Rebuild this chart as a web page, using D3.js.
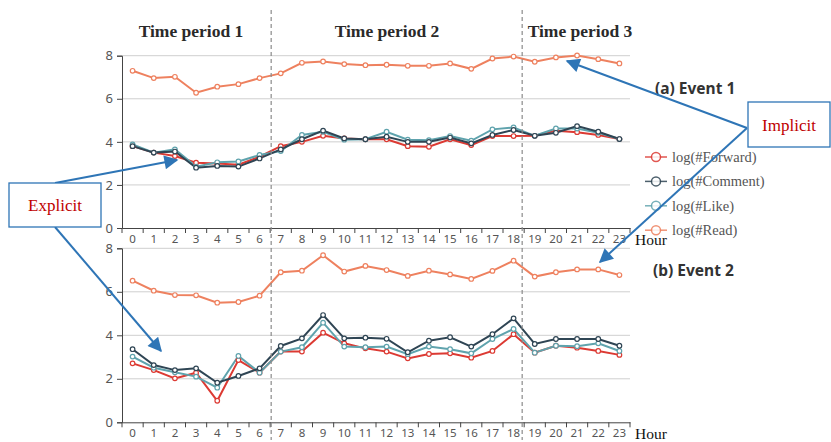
<!DOCTYPE html>
<html><head><meta charset="utf-8">
<script src="https://cdn.jsdelivr.net/npm/d3@7"></script>
<style>body{margin:0;background:#fff;}svg{display:block;}</style>
</head><body>
<svg id="c" width="831" height="442"></svg>
<script>
const hours = d3.range(24).map(String);
const yTicks = [0, 2, 4, 6, 8];
const seriesNames = ["log(#Forward)", "log(#Comment)", "log(#Like)", "log(#Read)"];
const seriesColors = ["#dc3a33", "#2f4554", "#5fa3ad", "#ee815f"];
const periodLabels = ["Time period 1", "Time period 2", "Time period 3"];
const eventLabels = ["(a) Event 1", "(b) Event 2"];

// Event 1
const e1Forward = [3.80,3.50,3.34,3.03,3.00,2.94,3.31,3.80,4.00,4.28,4.16,4.12,4.12,3.80,3.77,4.12,3.85,4.27,4.27,4.28,4.52,4.45,4.32,4.13];
const e1Comment = [3.80,3.50,3.55,2.80,2.88,2.85,3.23,3.65,4.12,4.52,4.16,4.12,4.24,4.00,4.00,4.20,3.93,4.32,4.55,4.28,4.42,4.73,4.47,4.13];
const e1Like    = [3.88,3.50,3.65,2.85,3.05,3.09,3.39,3.57,4.32,4.47,4.10,4.12,4.47,4.10,4.08,4.27,4.05,4.58,4.67,4.28,4.62,4.62,4.42,4.13];
const e1Read    = [7.30,6.96,7.02,6.28,6.56,6.68,6.96,7.18,7.67,7.73,7.61,7.56,7.58,7.53,7.53,7.64,7.39,7.87,7.96,7.72,7.92,8.01,7.84,7.64];
// Event 2
const e2Forward = [2.71,2.40,2.02,2.28,0.99,2.86,2.28,3.25,3.25,4.12,3.63,3.40,3.25,2.94,3.14,3.17,2.97,3.28,4.05,3.20,3.52,3.43,3.28,3.10];
const e2Comment = [3.36,2.63,2.40,2.48,1.82,2.13,2.48,3.51,3.86,4.93,3.86,3.89,3.84,3.22,3.75,3.91,3.48,4.05,4.78,3.60,3.83,3.83,3.83,3.52];
const e2Like    = [3.02,2.51,2.30,2.10,1.59,3.05,2.28,3.25,3.45,4.58,3.48,3.45,3.48,3.13,3.48,3.36,3.17,3.83,4.29,3.20,3.52,3.50,3.63,3.28];
const e2Read    = [6.51,6.05,5.85,5.84,5.50,5.53,5.82,6.90,6.97,7.68,6.93,7.19,7.00,6.73,6.97,6.80,6.59,6.96,7.43,6.70,6.90,7.03,7.03,6.77];

const svg = d3.select("#c");
const x = d3.scaleBand().domain(hours).range([122, 630]).paddingInner(0).paddingOuter(0);
const cx = h => x(h) + x.bandwidth() / 2;

const panels = [
  { y: d3.scaleLinear().domain([0, 8]).range([228, 55.7]), data: [e1Forward, e1Comment, e1Like, e1Read] },
  { y: d3.scaleLinear().domain([0, 8]).range([422.3, 248.3]), data: [e2Forward, e2Comment, e2Like, e2Read] }
];

const axisFont = "'Noto Sans', 'Open Sans', sans-serif";
const serif = "'Liberation Serif', 'Times New Roman', serif";

panels.forEach((p, pi) => {
  const g = svg.append("g");
  g.selectAll(".grid").data(yTicks.filter(t => t > 0)).join("line")
    .attr("x1", 122).attr("x2", 630)
    .attr("y1", d => p.y(d)).attr("y2", d => p.y(d))
    .attr("stroke", "#cfcfcf").attr("stroke-width", 1);
  const ya = g.append("g").attr("transform", "translate(122,0)")
    .call(d3.axisLeft(p.y).tickValues(yTicks).tickSize(5).tickPadding(4).tickFormat(d3.format("d")));
  ya.select(".domain").attr("stroke", "#444");
  ya.selectAll(".tick line").attr("stroke", "#444");
  ya.selectAll("text").attr("font-family", axisFont).attr("font-size", 13).attr("fill", "#555");
  const xa = g.append("g").attr("transform", `translate(0,${p.y(0)})`)
    .call(d3.axisBottom(x).tickSize(0).tickPadding(7).tickSizeOuter(0));
  xa.select(".domain").attr("stroke", "#444");
  xa.selectAll("text").attr("font-family", axisFont).attr("font-size", 11.5).attr("fill", "#555");
  g.selectAll(".xt").data(hours.concat(["end"])).join("line")
    .attr("x1", d => d === "end" ? x.range()[1] : x(d))
    .attr("x2", d => d === "end" ? x.range()[1] : x(d))
    .attr("y1", p.y(0)).attr("y2", p.y(0) + 5)
    .attr("stroke", "#444");
  g.append("text").attr("x", x.range()[1] + 5).attr("y", p.y(0) + 17)
    .attr("font-family", serif).attr("font-size", 15.5)
    .attr("fill", "#111").text("Hour");
  const line = d3.line().x((d, i) => cx(hours[i])).y(d => p.y(d));
  [3, 0, 2, 1].forEach(si => {
    g.append("path").datum(p.data[si]).attr("d", line)
      .attr("fill", "none").attr("stroke", seriesColors[si]).attr("stroke-width", 2);
  });
  [3, 0, 2, 1].forEach(si => {
    g.selectAll(null).data(p.data[si]).join("circle")
      .attr("cx", (d, i) => cx(hours[i])).attr("cy", d => p.y(d)).attr("r", 2.3)
      .attr("fill", "#fff").attr("stroke", seriesColors[si]).attr("stroke-width", 1.2);
  });
  svg.append("text").attr("x", pi === 0 ? 655 : 653).attr("y", pi === 0 ? 94 : 276)
    .attr("font-family", axisFont).attr("font-weight", "bold").attr("font-size", 15.5)
    .attr("fill", "#333").text(eventLabels[pi]);
});

[x("7") + 1, x("19") - 2].forEach(xx => {
  svg.append("line").attr("x1", xx).attr("x2", xx).attr("y1", 10).attr("y2", 440)
    .attr("stroke", "#8a8a8a").attr("stroke-width", 1.2).attr("stroke-dasharray", "4,3");
});

const periodCenters = [191, 387, 580];
periodLabels.forEach((t, i) => {
  svg.append("text").attr("x", periodCenters[i]).attr("y", 37).attr("text-anchor", "middle")
    .attr("font-family", serif).attr("font-weight", "bold")
    .attr("font-size", 17.5).attr("fill", "#2a2a2a").text(t);
});

const lg = svg.append("g");
seriesNames.forEach((n, i) => {
  const yy = 157 + i * 24.4;
  lg.append("line").attr("x1", 645).attr("x2", 667).attr("y1", yy).attr("y2", yy)
    .attr("stroke", seriesColors[i]).attr("stroke-width", 1.5).attr("opacity", 0.85);
  lg.append("circle").attr("cx", 656).attr("cy", yy).attr("r", 4.5)
    .attr("fill", "#fff").attr("stroke", seriesColors[i]).attr("stroke-width", 1.5).attr("opacity", 0.85);
  lg.append("text").attr("x", 672).attr("y", yy + 5)
    .attr("font-family", serif).attr("font-size", 14.5)
    .attr("fill", "#555").text(n);
});

const blue = "#2e75b6";
const defs = svg.append("defs");
defs.append("marker").attr("id", "ah").attr("viewBox", "0 0 10 10").attr("refX", 9).attr("refY", 5)
  .attr("markerWidth", 8).attr("markerHeight", 7).attr("orient", "auto").attr("markerUnits", "strokeWidth")
  .append("path").attr("d", "M0,0 L10,5 L0,10 z").attr("fill", blue);
const arrows = [
  [[747, 128], [567, 61]],
  [[747, 128], [600, 262]],
  [[55, 183], [177, 160]],
  [[55, 227], [161, 351]]
];
arrows.forEach(a => {
  svg.append("line").attr("x1", a[0][0]).attr("y1", a[0][1]).attr("x2", a[1][0]).attr("y2", a[1][1])
    .attr("stroke", blue).attr("stroke-width", 2).attr("marker-end", "url(#ah)");
});

const boxes = [
  { x: 748, y: 102, w: 82, h: 45, t: "Implicit" },
  { x: 9, y: 183, w: 92, h: 44, t: "Explicit" }
];
boxes.forEach(b => {
  svg.append("rect").attr("x", b.x).attr("y", b.y).attr("width", b.w).attr("height", b.h)
    .attr("fill", "#fff").attr("stroke", blue).attr("stroke-width", 1.3);
  svg.append("text").attr("x", b.x + b.w / 2).attr("y", b.y + b.h / 2 + 6).attr("text-anchor", "middle")
    .attr("font-family", serif).attr("font-size", 17)
    .attr("fill", "#c00000").text(b.t);
});
</script>
</body></html>
